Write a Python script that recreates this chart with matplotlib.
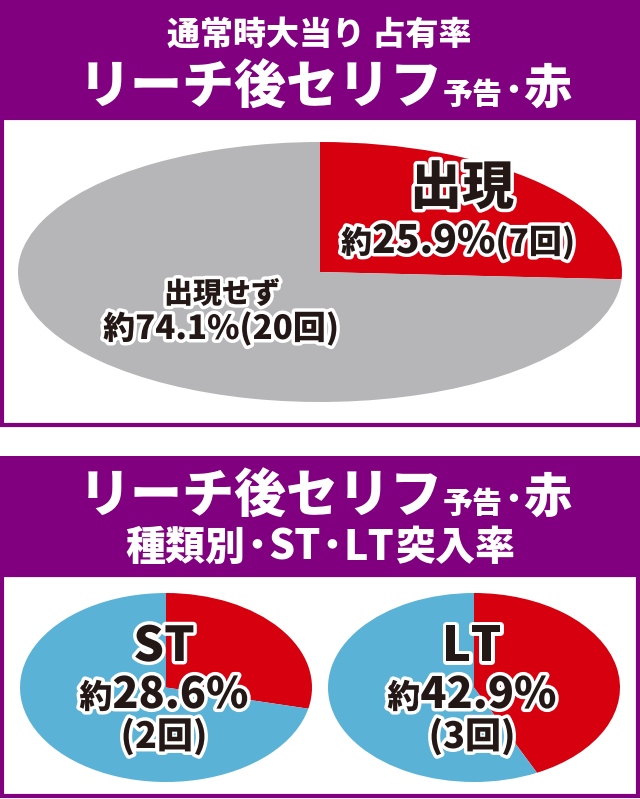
import matplotlib
matplotlib.use('Agg')

import matplotlib.pyplot as plt
import matplotlib.patheffects as pe
from matplotlib.patches import Rectangle

plt.rcParams['font.family'] = ['Noto Sans CJK JP', 'DejaVu Sans']

# Daten
main_labels = ['出現', '出現せず']
main_share = [25.9, 74.1]
main_count = [7, 20]
type_names = ['ST', 'LT']
type_share = [28.6, 42.9]
type_count = [2, 3]

PURPLE = '#800080'
RED = '#d7000f'
GREY = '#b6b6b8'
BLUE = '#5ab3d6'
INK = '#231815'

W, H = 640, 799
fig = plt.figure(figsize=(W / 100, H / 100), dpi=100)
bg = fig.add_axes([0, 0, 1, 1])
bg.set_xlim(0, W)
bg.set_ylim(H, 0)
bg.axis('off')


def px(v):
    # Pixel -> Punkt
    return v * 0.72


def box(y0, y1, head):
    bg.add_patch(Rectangle((0, y0), W, head - y0, color=PURPLE, lw=0))
    bg.add_patch(Rectangle((2, head), W - 4, y1 - head - 2, facecolor='white',
                           edgecolor=PURPLE, lw=3))


box(0, 427, 118)
box(456, 798, 575)


def pie_axes(x0, x1, y0, y1, values, colors):
    a = fig.add_axes([x0 / W, 1 - y1 / H, (x1 - x0) / W, (y1 - y0) / H])
    a.pie(values, colors=colors, startangle=90, counterclock=False, radius=1,
          wedgeprops=dict(linewidth=0))
    a.set_aspect('auto')
    a.set_xlim(-1, 1)
    a.set_ylim(-1, 1)
    a.axis('off')
    return a


pie_axes(18, 622, 142, 402, main_share, [RED, GREY])
pie_axes(20, 312, 593, 782, [type_share[0], 100 - type_share[0]], [RED, BLUE])
pie_axes(328, 620, 593, 782, [type_share[1], 100 - type_share[1]], [RED, BLUE])

tx = fig.add_axes([0, 0, 1, 1])
tx.set_xlim(0, W)
tx.set_ylim(H, 0)
tx.axis('off')
tx.patch.set_alpha(0)

renderer = fig.canvas.get_renderer()
outline = [pe.withStroke(linewidth=5, foreground='white')]


def runs(xc, y, parts, color, stroke=False):
    # parts: (text, size_px)
    ts = []
    for s, size in parts:
        t = tx.text(0, y, s, fontsize=px(size), fontweight='heavy', color=color,
                    ha='left', va='baseline')
        if stroke:
            t.set_path_effects(outline)
        ts.append(t)
    widths = [t.get_window_extent(renderer).width for t in ts]
    x = xc - sum(widths) / 2
    for t, w in zip(ts, widths):
        t.set_x(x)
        x += w


# Kopfzeilen
head2 = [('リーチ後セリフ', 52), ('予告', 30), ('･', 40), ('赤', 48)]
runs(319, 45, [('通常時大当り 占有率', 33)], 'white')
runs(325, 104, head2, 'white')
runs(325, 513, head2, 'white')
runs(320, 560, [('種類別', 40), ('･', 46), ('ST', 41), ('･', 46), ('LT', 41), ('突入率', 40)], 'white')

# Hauptkreis
runs(462, 204, [(main_labels[0], 52)], INK, True)
runs(458, 253, [('約', 31), (f'{main_share[0]}%', 39), (f'({main_count[0]}回)', 33)], INK, True)
runs(222, 303, [(main_labels[1], 29)], INK, True)
runs(221, 339, [('約', 32), (f'{main_share[1]}%', 33), (f'({main_count[1]}回)', 33)], INK, True)

# ST / LT
for xc, name, share, cnt in zip([164, 472], type_names, type_share, type_count):
    runs(xc, 661, [(name, 48)], INK, True)
    runs(xc, 708, [('約', 33), (f'{share}%', 43)], INK, True)
    runs(xc, 748, [(f'({cnt}回)', 36)], INK, True)

fig.savefig('out.png', dpi=100)
